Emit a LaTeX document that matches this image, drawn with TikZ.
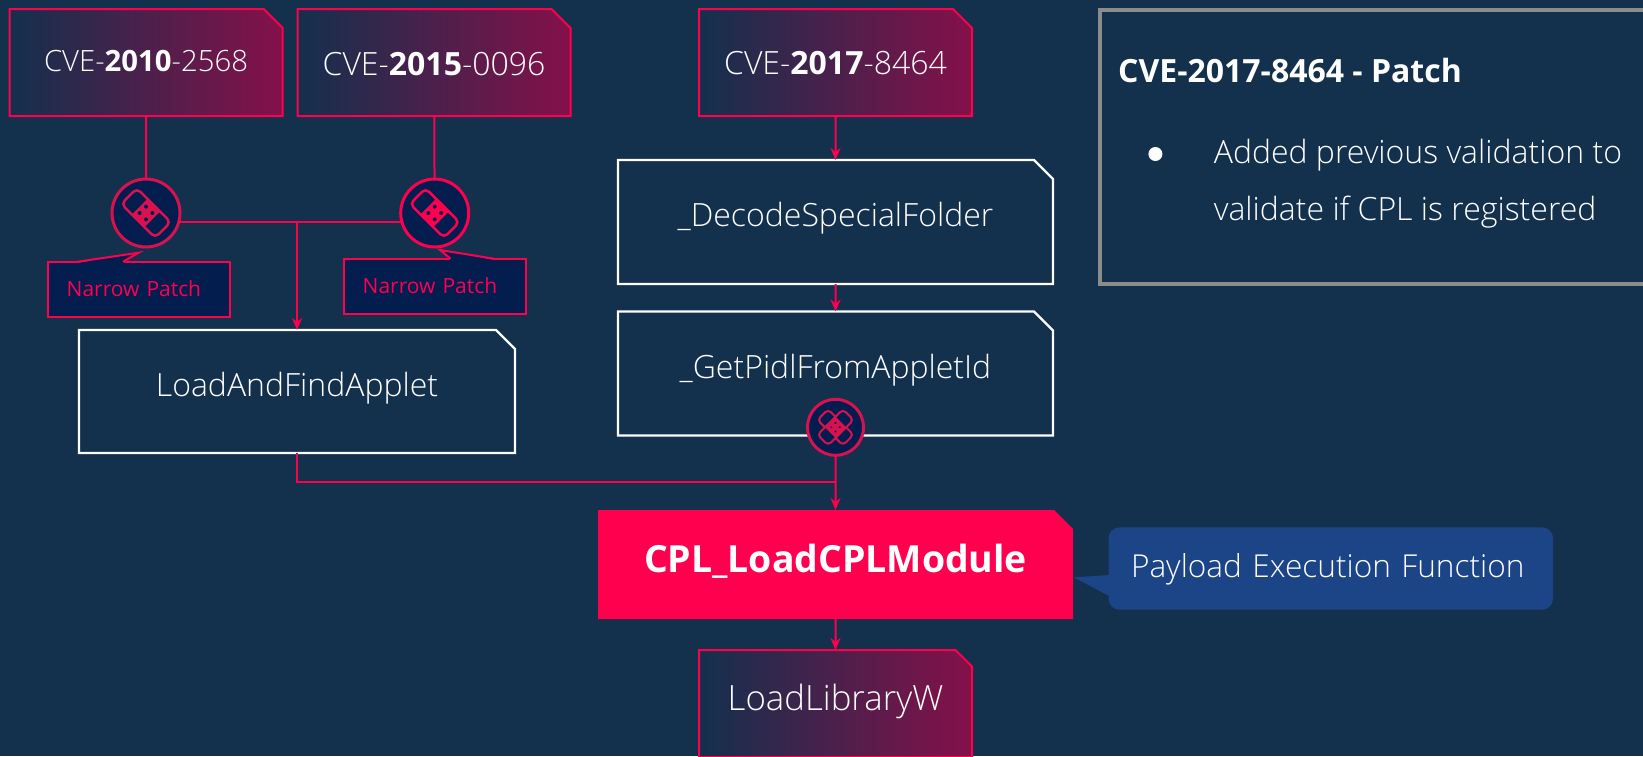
\documentclass[tikz,border=0pt]{standalone}
\usepackage{xcolor}
\usepackage{fontspec}
\setmainfont{Open Sans}[UprightFont=* Light,BoldFont=* Bold]
\newfontfamily\regularfont{Open Sans}
\usetikzlibrary{shapes.misc, arrows.meta, positioning, calc}

\definecolor{slide}{HTML}{13304D}
\definecolor{hot}{HTML}{FF004F}
\definecolor{hotdim}{HTML}{D8124F}
\definecolor{ink}{HTML}{031D4F}
\definecolor{wine}{HTML}{85104A}
\definecolor{note}{HTML}{1C4587}

\begin{document}
\begin{tikzpicture}[
    x=1pt, y=-1pt,
    node distance=30pt,
    snip/.style={chamfered rectangle, chamfered rectangle corners=north east, chamfered rectangle xsep=9.5pt, chamfered rectangle ysep=9.5pt, inner sep=0pt, outer sep=0pt, align=center},
    cve/.style={snip, draw=hot, line width=2pt, left color=slide, right color=wine, text=white, minimum width=273pt, minimum height=107pt},
    func/.style={snip, draw=white, line width=2.4pt, text=white, minimum width=435pt, minimum height=124pt, text height=24pt, text depth=15pt, font=\fontsize{32}{38}\selectfont},
    patch/.style={circle, draw=#1, line width=3pt, fill=ink, minimum size=68pt, inner sep=0pt, outer sep=0pt},
    narrow/.style={rectangle, draw=hot, line width=2pt, fill=ink, text=hot, text width=144pt, align=left, inner xsep=19pt, inner ysep=0pt, minimum height=55pt, text height=14pt, text depth=0pt, font=\regularfont\fontsize{21}{26}\selectfont},
    arrow/.style={-{Stealth[length=12pt, width=10pt]}, hot, line width=2pt},
    link/.style={hot, line width=2pt},
    plaster/.pic={
        \begin{scope}[rotate=-45]
            \draw[#1, line width=2.5pt, rounded corners=5pt] (-24,-11) rectangle (24,11);
            \fill[#1] (-9,-11) rectangle (9,11);
            \foreach \dx in {-4.5,4.5} \foreach \dy in {-4.5,4.5} \fill[ink] (\dx,\dy) circle (2pt);
        \end{scope}
    },
    crossplaster/.pic={
        \draw[#1, line width=2pt, rounded corners=4pt, rotate=-45] (-18,-7.5) rectangle (18,7.5);
        \draw[#1, line width=2pt, rounded corners=4pt, fill=ink, rotate=45] (-18,-7.5) rectangle (18,7.5);
        \fill[#1, rotate=45] (-7.5,-7.5) rectangle (7.5,7.5);
        \foreach \dx in {-3,3} \foreach \dy in {-3,3} \fill[ink, rotate=45] (\dx,\dy) circle (1.3pt);
    }
]

\fill[slide, use as bounding box] (0,0) rectangle (1643,756);

% top row
\node[cve, text height=18.4pt, text depth=0pt, font=\fontsize{29.3}{36}\selectfont] (cveA) at (146,62.5) {CVE-\textbf{2010}-2568};
\node[cve, text height=25pt, text depth=0pt, font=\fontsize{32}{38}\selectfont, right=15pt of cveA] (cveB) {CVE-\textbf{2015}-0096};
\node[cve, text height=24pt, text depth=0pt, font=\fontsize{32}{38}\selectfont] (cveC) at (835.5,62.5) {CVE-\textbf{2017}-8464};

% middle column
\node[func, below=44pt of cveC] (decode) {\_DecodeSpecialFolder};
\node[func, below=27.5pt of decode] (pidl) {\_GetPidlFromAppletId};
\node[func, minimum width=436pt, minimum height=123pt] (applet) at (297,391.5) {LoadAndFindApplet};

% payload
\node[snip, fill=hot, text=white, minimum width=475pt, minimum height=109pt, text height=26pt, text depth=11pt, font=\bfseries\fontsize{37.4}{44}\selectfont] (cpl) at (835.5,564.5) {CPL\_LoadCPLModule};
\node[cve, below=31pt of cpl, text height=14pt, text depth=0pt, font=\fontsize{34.8}{40}\selectfont] (loadlib) {LoadLibraryW};

% patch marks
\node[patch=hotdim] (patchA) at (146,213) {};
\node[patch=hot] (patchB) at (434.7,213) {};
\node[patch=hotdim, minimum size=56pt] (patchC) at (835.5,427.3) {};
\pic at (patchA) {plaster=hotdim};
\pic at (patchB) {plaster=hot};
\pic at (patchC) {crossplaster=hotdim};

% narrow patch notes
\node[narrow] (noteA) at (138.7,289) {Narrow Patch};
\node[narrow] (noteB) at (434.7,286.5) {Narrow Patch};
\coordinate (tipA) at (138.7,252.7);
\coordinate (tipB) at (440,250);
\fill[ink] (77.7,263) -- (tipA) -- (123,263) -- cycle;
\draw[link] (77.7,261.7) -- (tipA) -- (123,261.7);
\fill[ink] (450.6,260) -- (tipB) -- (494,260) -- cycle;
\draw[link] (450.6,258.7) -- (tipB) -- (494,258.7);

% payload note
\node[rectangle, rounded corners=11pt, fill=note, text=white, text width=399.6pt, align=left, inner xsep=22.4pt, inner ysep=0pt, minimum height=82.4pt, text height=18.4pt, text depth=0pt, font=\fontsize{31.6}{37}\selectfont] (payload) at (1330.8,568.5) {Payload Execution Function};
\coordinate (tipP) at (1074,577.3);
\fill[note] (1110,575) -- (tipP) -- (1110,596.5) -- cycle;

% patch panel
\node[rectangle, draw=gray!90, line width=4pt, outer sep=0pt, inner sep=0pt, minimum width=560pt, minimum height=274pt, anchor=north west] (panel) at (1099.7,9.7) {};
\node[anchor=base west, text=white, inner sep=0pt, font=\bfseries\fontsize{32}{37}\selectfont] (title) at (1118,82.7) {CVE-2017-8464 - Patch};
\node[circle, fill=white, minimum size=14pt, inner sep=0pt] (bullet) at (1155.4,154) {};
\node[anchor=base west, text=white, inner sep=0pt, align=left, font=\fontsize{32}{57}\selectfont] (points) at (1213.6,220.3) {Added previous validation to\\validate if CPL is registered};

% connectors
\draw[link] (cveA) -- (patchA);
\draw[link] (cveB) -- (patchB);
\draw[link] (patchA.-16) -- (patchB.196);
\draw[arrow] (applet.north |- patchA.-16) -- (applet.north);
\draw[arrow] (cveC) -- (decode);
\draw[arrow] (decode) -- (pidl);
\draw[arrow] (patchC) -- (cpl);
\coordinate (joinCpl) at (patchC.south |- 0,481.7);
\draw[link] (applet.south) |- (joinCpl);
\draw[arrow] (cpl) -- (loadlib);

\end{tikzpicture}
\end{document}
